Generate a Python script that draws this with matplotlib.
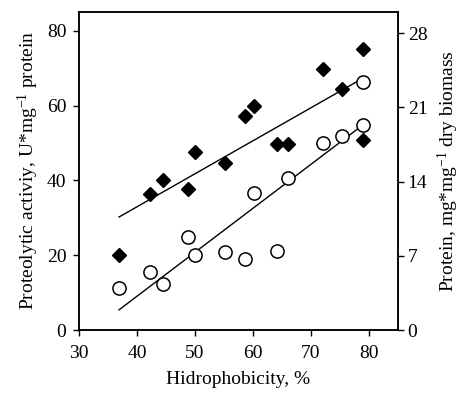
import matplotlib
matplotlib.use("Agg")
import matplotlib.pyplot as plt

plt.rcParams["font.family"] = ["Liberation Serif", "DejaVu Serif"]
plt.rcParams["mathtext.fontset"] = "custom"
plt.rcParams["mathtext.rm"] = "Liberation Serif"
plt.rcParams["mathtext.it"] = "Liberation Serif:italic"

# гидрофобность, %
hydro = [36.9, 42.2, 44.4, 48.8, 50.0, 55.2, 58.6, 60.2, 64.1, 66.1, 72.1, 75.3, 78.9, 78.9]
# протеолитическая активность (левая ось) — ромбы
activity = [20.0, 36.4, 40.0, 37.8, 47.7, 44.7, 57.2, 60.0, 49.8, 49.8, 69.8, 64.4, 75.1, 50.7]
# белок (правая ось) — кружки
hydro_c = [36.9, 42.2, 44.4, 48.8, 50.0, 55.2, 58.6, 60.2, 64.1, 66.1, 72.1, 75.3, 78.9, 78.9]
protein = [4.0, 5.5, 4.3, 8.8, 7.05, 7.4, 6.7, 12.9, 7.5, 14.3, 17.6, 18.3, 19.3, 23.4]

# линии тренда, концы
fit_x = [36.9, 78.6]
fit_activity = [30.2, 67.0]
fit_protein = [1.9, 19.2]

fig = plt.figure(figsize=(4.6, 3.94), dpi=100)
ax = fig.add_axes([0.1717, 0.1624, 0.6935, 0.8071])
ax2 = ax.twinx()

ax.plot(fit_x, fit_activity, color="black", lw=1.0, zorder=2)
ax2.plot(fit_x, fit_protein, color="black", lw=1.0, zorder=2)
ax.plot(hydro, activity, linestyle="none", marker="D", markersize=7,
        color="black", zorder=3)
ax2.plot(hydro_c, protein, linestyle="none", marker="o", markersize=9.5,
         markerfacecolor="white", markeredgecolor="black", markeredgewidth=1.1, zorder=3)

ax.set_xlim(30, 85)
ax.set_ylim(0, 85)
ax2.set_ylim(0, 30)
ax.set_xticks([30, 40, 50, 60, 70, 80])
ax.set_yticks([0, 20, 40, 60, 80])
ax2.set_yticks([0, 7, 14, 21, 28])

for a in (ax, ax2):
    a.tick_params(direction="out", length=4, width=1, labelsize=14)
    for s in a.spines.values():
        s.set_linewidth(1.1)
ax.tick_params(axis="x", pad=7)
ax.tick_params(axis="y", pad=5)
ax2.tick_params(axis="y", pad=3)

ax.set_xlabel("Hidrophobicity, %", fontsize=14, labelpad=6)
ax.set_ylabel("Proteolytic activiy, U*mg$^{-1}$ protein", fontsize=14, labelpad=4)
ax2.set_ylabel("Protein, mg*mg$^{-1}$ dry biomass", fontsize=14, labelpad=6)

fig.savefig("out.png", dpi=100)
